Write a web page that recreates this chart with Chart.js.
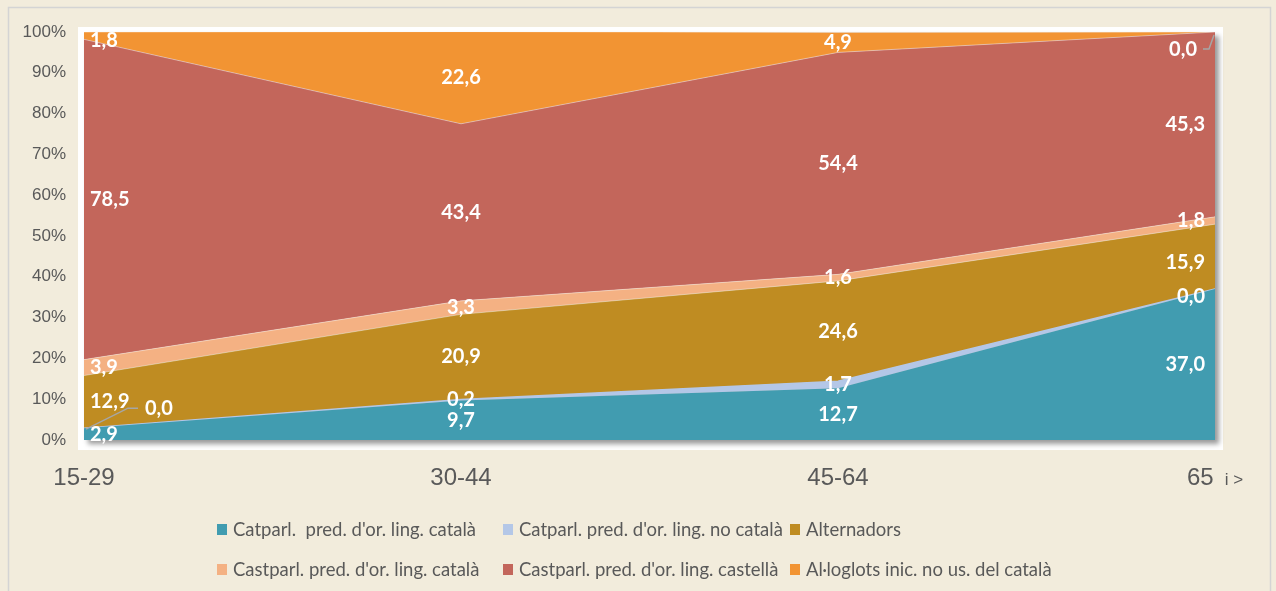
<!DOCTYPE html>
<html>
<head>
<meta charset="utf-8">
<script src="https://cdn.jsdelivr.net/npm/chart.js"></script>
<style>
  html, body { margin: 0; padding: 0; background: #f2ecdc; }
</style>
</head>
<body>
<canvas id="myChart" width="1276" height="591"></canvas>
<script>
// categories (age groups)
var ageGroups = ['15-29', '30-44', '45-64', '65 i >'];

// series names
var seriesNames = [
  "Catparl.  pred. d'or. ling. català",
  "Catparl. pred. d'or. ling. no català",
  "Alternadors",
  "Castparl. pred. d'or. ling. català",
  "Castparl. pred. d'or. ling. castellà",
  "Al·loglots inic. no us. del català"
];

// values (%)
var catparlCat   = [2.9, 9.7, 12.7, 37.0];
var catparlNoCat = [0.0, 0.2, 1.7, 0.0];
var alternadors  = [12.9, 20.9, 24.6, 15.9];
var castparlCat  = [3.9, 3.3, 1.6, 1.8];
var castparlCast = [78.5, 43.4, 54.4, 45.3];
var alloglots    = [1.8, 22.6, 4.9, 0.0];

var colors = ['#419cb0', '#b4c7e7', '#bf8c22', '#f4b183', '#c3665b', '#f29433'];

// tweaks for a few crowded labels: key "dataset,index"
var labelTweaks = {
  '1,0': { dx: 61, dy: -20, align: 'left', leader: [[2, 1], [44, -20], [54, -20]] },
  '1,3': { dy: 8 },
  '5,0': { dy: 5 },
  '2,3': { dy: 6 },
  '5,3': { dx: -18, dy: 18, align: 'right', leader: [[-12, 17], [-6, 17], [-1, 3]] }
};

var frame = {
  id: 'frame',
  beforeDraw: function(chart) {
    var c = chart.ctx, a = chart.chartArea;
    c.save();
    c.fillStyle = '#f2ecdc';
    c.fillRect(0, 0, chart.width, chart.height);
    c.strokeStyle = '#d4d4d4';
    c.lineWidth = 1.5;
    c.strokeRect(8.5, 7.5, 1262, 620);
    c.fillStyle = '#ffffff';
    c.fillRect(a.left - 6, a.top - 5, a.right - a.left + 14, a.bottom - a.top + 15);
    c.shadowColor = 'rgba(0,0,0,0.4)';
    c.shadowBlur = 5;
    c.shadowOffsetX = 4;
    c.shadowOffsetY = 4;
    c.fillStyle = '#d0d0d0';
    c.fillRect(a.left, a.top, a.right - a.left, a.bottom - a.top);
    c.restore();
  }
};

var valueLabels = {
  id: 'valueLabels',
  afterDatasetsDraw: function(chart) {
    var c = chart.ctx, xs = chart.scales.x, ys = chart.scales.y;
    var last = ageGroups.length - 1;
    c.save();
    c.font = 'bold 20px Lato';
    c.textBaseline = 'middle';
    for (var j = 0; j <= last; j++) {
      var base = 0;
      chart.data.datasets.forEach(function(ds, i) {
        var v = ds.data[j];
        var x = xs.getPixelForValue(j);
        var yMid = ys.getPixelForValue(base + v / 2);
        var yTop = ys.getPixelForValue(base + v);
        base += v;
        var t = labelTweaks[i + ',' + j];
        var align = j === 0 ? 'left' : (j === last ? 'right' : 'center');
        var lx = j === 0 ? x + 6 : (j === last ? x - 10 : x);
        var ly = yMid;
        if (t) {
          if (t.leader) {
            c.strokeStyle = '#a6a6a6';
            c.lineWidth = 1.5;
            c.beginPath();
            t.leader.forEach(function(p, k) {
              if (k === 0) c.moveTo(x + p[0], yTop + p[1]);
              else c.lineTo(x + p[0], yTop + p[1]);
            });
            c.stroke();
            lx = x + t.dx;
            ly = yTop + t.dy;
          } else {
            if (t.dx) lx += t.dx;
            ly += t.dy || 0;
          }
          if (t.align) align = t.align;
        }
        c.textAlign = align;
        c.fillStyle = '#ffffff';
        c.fillText(v.toFixed(1).replace('.', ','), lx, ly);
      });
    }
    c.restore();
  }
};

var ageLabels = {
  id: 'ageLabels',
  afterDraw: function(chart) {
    var c = chart.ctx, xs = chart.scales.x;
    c.save();
    c.fillStyle = '#595959';
    c.textBaseline = 'alphabetic';
    c.textAlign = 'left';
    ageGroups.forEach(function(lbl, j) {
      var parts = lbl.split(' ');
      var main = parts[0], rest = parts.slice(1).join(' ');
      c.font = '24px "Liberation Sans"';
      var w1 = c.measureText(main).width;
      c.font = '17px "Liberation Sans"';
      var w2 = rest ? c.measureText(rest).width + 11 : 0;
      var x0 = xs.getPixelForValue(j) - (w1 + w2) / 2;
      c.font = '24px "Liberation Sans"';
      c.fillText(main, x0, 485);
      if (rest) {
        c.font = '17px "Liberation Sans"';
        c.fillText(rest, x0 + w1 + 11, 485);
      }
    });
    c.restore();
  }
};

var gridLegend = {
  id: 'gridLegend',
  afterDraw: function(chart) {
    var c = chart.ctx;
    var colX = [217, 503, 790];
    var rowY = [529, 569];
    c.save();
    c.font = '18.5px Lato';
    c.textBaseline = 'middle';
    c.textAlign = 'left';
    chart.data.datasets.forEach(function(ds, i) {
      var bx = colX[i % 3], by = rowY[Math.floor(i / 3)];
      c.fillStyle = ds.backgroundColor;
      c.fillRect(bx, by - 5, 10, 11);
      c.fillStyle = '#595959';
      c.fillText(ds.label, bx + 16, by + 1);
    });
    c.restore();
  }
};

var seriesValues = [catparlCat, catparlNoCat, alternadors, castparlCat, castparlCast, alloglots];

var datasets = seriesValues.map(function(vals, i) {
  return {
    label: seriesNames[i],
    data: vals,
    backgroundColor: colors[i],
    borderColor: i === 1 ? colors[1] : 'rgba(255,255,255,0.4)',
    borderWidth: i === 0 ? 0 : (i === 1 ? 1.5 : 1),
    fill: i === 0 ? 'origin' : '-1',
    pointRadius: 0,
    tension: 0
  };
});

var ctx = document.getElementById('myChart').getContext('2d');
var myChart = new Chart(ctx, {
  type: 'line',
  data: {
    labels: ageGroups,
    datasets: datasets
  },
  options: {
    responsive: false,
    animation: false,
    layout: { padding: { left: 10, right: 61, top: 32, bottom: 111 } },
    plugins: {
      legend: { display: false },
      tooltip: { enabled: false }
    },
    scales: {
      x: {
        offset: false,
        ticks: { display: false },
        grid: { display: false, drawTicks: false },
        border: { display: false },
        afterFit: function(s) { s.height = 40; }
      },
      y: {
        stacked: true,
        min: 0,
        max: 100,
        ticks: {
          stepSize: 10,
          padding: 18,
          color: '#595959',
          font: { family: 'Liberation Sans', size: 17 },
          callback: function(v) { return v + '%'; }
        },
        grid: { display: false, drawTicks: false },
        border: { display: false },
        afterFit: function(s) { s.width = 74; }
      }
    }
  },
  plugins: [frame, valueLabels, ageLabels, gridLegend]
});
</script>
</body>
</html>
